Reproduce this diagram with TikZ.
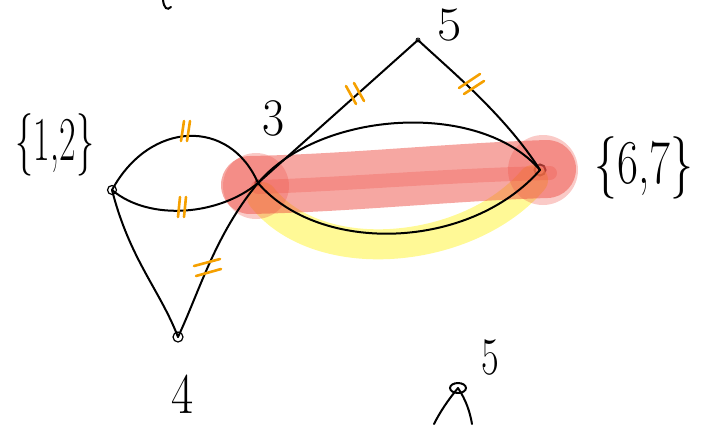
\documentclass[tikz,border=0pt]{standalone}
\usepackage{graphicx}
\usetikzlibrary{shapes.geometric}
\definecolor{hlred}{RGB}{238,80,70}
\definecolor{hlyel}{RGB}{255,245,80}
\definecolor{tickor}{RGB}{245,160,0}
\begin{document}
\begin{tikzpicture}[x=1pt,y=-1pt,
  vtx/.style={draw,circle,inner sep=0pt,minimum size=9pt,line width=1.2pt},
  edge/.style={line width=2pt,line cap=round},
  tickmark/.style={draw=tickor,line width=2.6pt,line cap=round},
  lbl/.style={inner sep=0pt,font=\fontsize{48}{48}\selectfont},
  redband/.style={draw=hlred,opacity=0.5,line cap=round},
]
\useasboundingbox (0,0) rectangle (711,424);
% vertices
\node[vtx] (v12) at (112,190) {};
\node[vtx,minimum size=6pt] (v3) at (258,183) {};
\node[vtx,minimum size=10pt] (v4) at (178,337) {};
\node[vtx,minimum size=4pt,line width=0.8pt] (v5) at (418,40) {};
\node[vtx,minimum size=11pt,line width=2pt] (v67) at (540,170) {};
\node[draw,ellipse,inner sep=0pt,minimum width=16pt,minimum height=10pt,line width=2pt] (v9) at (458,388) {};
\coordinate (b1) at (434,424);
\coordinate (b2) at (472,424);
% highlights
\draw[draw=hlyel,opacity=0.6,line width=30pt,line cap=round]
  (262,197) .. controls (320,270) and (470,254) .. (533,180);
\draw[redband,line width=58pt] (250,185) .. controls (350,183) and (450,172) .. (547,169);
\fill[hlred,opacity=0.3] (256,186) circle (33);
\fill[hlred,opacity=0.3] (543,170) circle (35);
\draw[redband,line width=14pt,opacity=0.3] (258,187) .. controls (350,184) and (450,175) .. (550,173);
% edges
\draw[edge] (v12.center) .. controls (150,120) and (230,118) .. (v3.center);
\draw[edge] (v12.center) .. controls (150,222) and (220,215) .. (v3.center);
\draw[edge] (v12.center) .. controls (130,260) and (160,290) .. (v4.center);
\draw[edge] (v4.center) .. controls (200,290) and (215,235) .. (v3.center);
\draw[edge] (v3.center) -- (v5.center);
\draw[edge] (v5.center) .. controls (450,70) and (505,115) .. (v67.center);
\draw[edge] (v3.center) .. controls (320,110) and (480,100) .. (v67.center);
\draw[edge] (v3.center) .. controls (320,255) and (470,250) .. (v67.center);
\draw[edge] (v9.center) .. controls (448,400) and (440,412) .. (b1);
\draw[edge] (v9.center) .. controls (466,400) and (470,412) .. (b2);
% fragment at top
\draw[edge] (163,0) .. controls (164,8) and (167,11) .. (171,7);
% orange ticks
\draw[tickmark] (184,121) -- (181,141) (190,121) -- (187,141);
\draw[tickmark] (180,197) -- (178,217) (186,197) -- (184,217);
\draw[tickmark] (194,266) -- (220,259) (196,276) -- (221,269);
\draw[tickmark] (346,86) -- (356,104) (354,83) -- (364,101);
\draw[tickmark] (459,88) -- (480,74) (464,94) -- (484,81);
% labels
\node[lbl] (l12) at (55,145) {\scalebox{0.75}[1.3]{\{1,2\}}};
\node[lbl] (l3) at (274,118) {\scalebox{1}[1.1]{3}};
\node[lbl] (l4) at (183,394) {\scalebox{1}[1.2]{4}};
\node[lbl] (l5) at (450,25) {\scalebox{1.1}[1]{5}};
\node[lbl] (l67) at (644,168) {\scalebox{0.95}[1.3]{\{6,7\}}};
\node[lbl] (l9) at (490,357) {\scalebox{0.8}[1.1]{5}};
\end{tikzpicture}
\end{document}
